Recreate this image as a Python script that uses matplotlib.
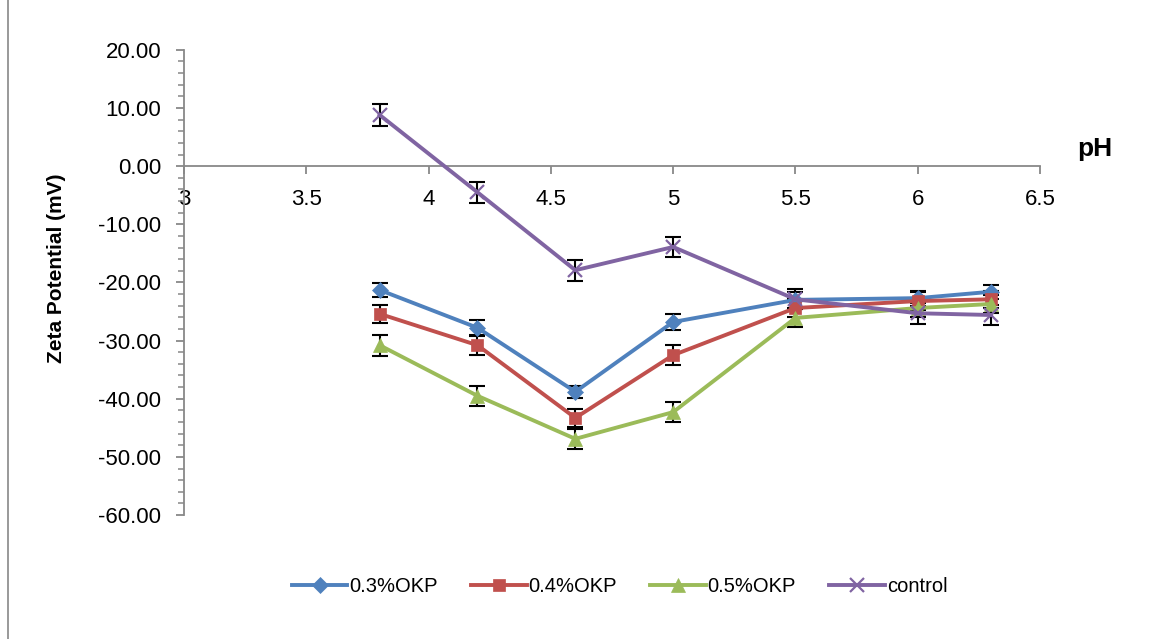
import numpy as np
import matplotlib
matplotlib.use('Agg')
import matplotlib.pyplot as plt
from matplotlib.ticker import MultipleLocator, FormatStrFormatter
from matplotlib.lines import Line2D

plt.rcParams['font.family'] = ['Liberation Sans', 'DejaVu Sans']

ph = [3.8, 4.2, 4.6, 5.0, 5.5, 6.0, 6.3]
okp03 = [-21.3, -27.8, -38.8, -26.8, -23.0, -22.7, -21.6]
okp04 = [-25.4, -30.8, -43.3, -32.5, -24.4, -23.2, -22.9]
okp05 = [-30.8, -39.5, -46.9, -42.3, -26.1, -24.4, -23.7]
control = [8.8, -4.5, -17.9, -13.9, -22.9, -25.3, -25.6]
err03 = [1.2, 1.3, 1.0, 1.3, 1.4, 1.3, 1.2]
err04 = [1.6, 1.6, 1.6, 1.7, 1.6, 1.6, 1.5]
err05 = [1.8, 1.7, 1.7, 1.7, 1.6, 1.6, 1.5]
errc = [1.9, 1.8, 1.8, 1.8, 1.7, 1.8, 1.8]

names = ['0.3%OKP', '0.4%OKP', '0.5%OKP', 'control']
colors = ['#4F81BD', '#C0504D', '#9BBB59', '#8064A2']
markers = ['D', 's', '^', 'x']
sizes = [8, 8, 10, 10]

fig = plt.figure(figsize=(11.6, 6.39), dpi=100)
ax = fig.add_axes([0.1586, 0.194, 0.738, 0.728])

series = [okp03, okp04, okp05, control]
errs = [err03, err04, err05, errc]
for y, e, c, m, s, n in zip(series, errs, colors, markers, sizes, names):
    ax.errorbar(ph, y, yerr=e, fmt='none', ecolor='black', elinewidth=1.5,
                capsize=6, capthick=1.5, zorder=2)
    ax.plot(ph, y, color=c, marker=m, markersize=s, linewidth=2.8,
            markeredgewidth=1.6 if m == 'x' else 0.5, label=n, zorder=3)

ax.set_xlim(3, 6.5)
ax.set_ylim(-60, 20)
ax.spines['top'].set_visible(False)
ax.spines['right'].set_visible(False)
ax.spines['bottom'].set_position(('data', 0))
ax.spines['bottom'].set_color('#888888')
ax.spines['left'].set_color('#888888')
ax.spines['bottom'].set_linewidth(1.3)
ax.spines['left'].set_linewidth(1.3)
ax.yaxis.set_major_locator(MultipleLocator(10))
ax.yaxis.set_minor_locator(MultipleLocator(2))
ax.yaxis.set_major_formatter(FormatStrFormatter('%.2f'))
ax.set_xticks([3, 3.5, 4, 4.5, 5, 5.5, 6, 6.5])
ax.set_xticklabels(['3', '3.5', '4', '4.5', '5', '5.5', '6', '6.5'])
ax.tick_params(axis='both', labelsize=16, color='#888888', length=5.5, width=1.3)
ax.tick_params(axis='y', which='minor', length=4, color='#888888', width=1.1)
ax.tick_params(axis='x', pad=11)
ax.tick_params(axis='y', pad=11)
ax.set_ylabel('Zeta Potential (mV)', fontsize=15, fontweight='bold')
ax.yaxis.set_label_coords(-0.138, 0.531)
ax.text(1.043, 0.772, 'pH', transform=ax.transAxes, fontsize=19,
        fontweight='bold', ha='left', va='baseline')

ax.legend(loc='center', bbox_to_anchor=(0.509, -0.153), ncol=4,
          frameon=False, fontsize=14.5, handlelength=2.75, columnspacing=1.65,
          handletextpad=0.1)

# chart area border, only the left edge is in the picture
fig.add_artist(Line2D([0.0065, 0.0065], [0, 1], transform=fig.transFigure,
                      color='#888888', linewidth=1.2))

fig.savefig('out.png', dpi=100)
